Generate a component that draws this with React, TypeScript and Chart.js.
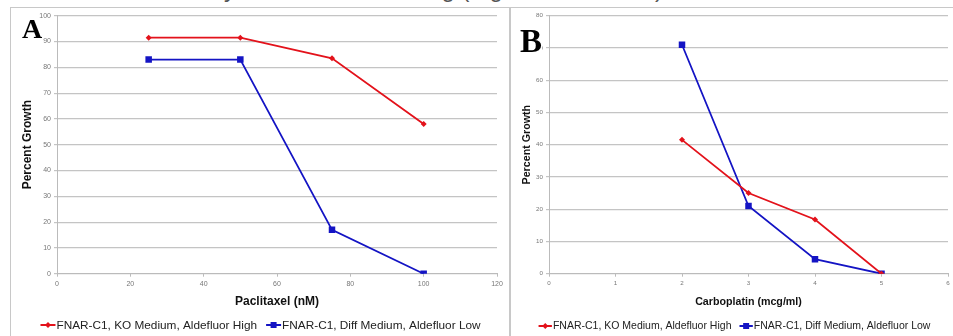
import React, { useEffect, useRef } from "react";
import { Chart, registerables } from "chart.js";

Chart.register(...registerables);

// ---------- data ----------
const paclitaxelDoses = [25, 50, 75, 100];
const paclitaxelKOHigh = [91.5, 91.5, 83.5, 58];
const paclitaxelDiffLow = [83, 83, 17, 0];

const carboplatinDoses = [2, 3, 4, 5];
const carboplatinKOHigh = [41.5, 25, 16.8, 0];
const carboplatinDiffLow = [71, 21, 4.5, 0];

const seriesNames = [
  "FNAR-C1, KO Medium, Aldefluor High",
  "FNAR-C1, Diff Medium, Aldefluor Low",
];
const seriesColors = ["#e3121b", "#1414c4"];

const paclitaxelAxis = { min: 0, max: 120, step: 20, title: "Paclitaxel (nM)" };
const carboplatinAxis = { min: 0, max: 6, step: 1, title: "Carboplatin (mcg/ml)" };
const growthAxisA = { min: 0, max: 100, step: 10, title: "Percent Growth" };
const growthAxisB = { min: 0, max: 80, step: 10, title: "Percent Growth" };

const FONT = "'Liberation Sans', Arial, Helvetica, sans-serif";

function makeLegendPlugin(centerX: number, centerY: number, k: number) {
  return {
    id: "excelLegend",
    afterDraw(chart: any) {
      const ctx = chart.ctx as CanvasRenderingContext2D;
      ctx.save();
      ctx.font = `${11.8 * k}px ${FONT}`;
      const lineLen = 15 * k;
      const gapText = 1;
      const gapItem = 9 * k;
      const ds = chart.data.datasets;
      const widths = ds.map((d: any) => ctx.measureText(d.label).width);
      const total =
        widths.reduce((a: number, w: number) => a + lineLen + gapText + w, 0) +
        gapItem * (ds.length - 1);
      let x = centerX - total / 2;
      ds.forEach((d: any, i: number) => {
        ctx.strokeStyle = d.borderColor;
        ctx.lineWidth = 2;
        ctx.beginPath();
        ctx.moveTo(x, centerY);
        ctx.lineTo(x + lineLen, centerY);
        ctx.stroke();
        const mx = x + lineLen / 2;
        ctx.fillStyle = d.borderColor;
        ctx.beginPath();
        if (d.pointStyle === "rectRot") {
          ctx.moveTo(mx, centerY - 3);
          ctx.lineTo(mx + 3, centerY);
          ctx.lineTo(mx, centerY + 3);
          ctx.lineTo(mx - 3, centerY);
          ctx.closePath();
        } else {
          ctx.rect(mx - 3, centerY - 3, 6, 6);
        }
        ctx.fill();
        ctx.fillStyle = "#222";
        ctx.textBaseline = "middle";
        ctx.textAlign = "left";
        ctx.fillText(d.label, x + lineLen + gapText, centerY + 0.5);
        x += lineLen + gapText + widths[i] + gapItem;
      });
      ctx.restore();
    },
  };
}

type PanelProps = {
  left: number;
  width: number;
  xs: number[];
  high: number[];
  low: number[];
  xAxis: { min: number; max: number; step: number; title: string };
  yAxis: { min: number; max: number; step: number; title: string };
  yAxisWidth: number;
  padRight: number;
  yTitleCenter: number;
  legendCenter: number;
  legendY: number;
  k: number;
};

const CANVAS_TOP = 8;
const CANVAS_H = 328;

function Panel(p: PanelProps) {
  const ref = useRef<HTMLCanvasElement | null>(null);
  useEffect(() => {
    if (!ref.current) return;
    const toPts = (ys: number[]) => p.xs.map((x, i) => ({ x, y: ys[i] }));
    const titleSize = 12 * p.k;
    const titleLH = titleSize * 1.2;
    const chart = new Chart(ref.current, {
      type: "line",
      data: {
        datasets: [
          {
            label: seriesNames[0],
            data: toPts(p.high),
            borderColor: seriesColors[0],
            backgroundColor: seriesColors[0],
            borderWidth: 1.8,
            pointStyle: "rectRot",
            pointRadius: 3,
            pointBorderWidth: 0,
            tension: 0,
          },
          {
            label: seriesNames[1],
            data: toPts(p.low),
            borderColor: seriesColors[1],
            backgroundColor: seriesColors[1],
            borderWidth: 1.8,
            pointStyle: "rect",
            pointRadius: 4.6,
            pointBorderWidth: 0,
            tension: 0,
          },
        ],
      },
      options: {
        animation: false,
        responsive: false,
        devicePixelRatio: 1,
        layout: { padding: { left: 0, top: 7.7, right: p.padRight, bottom: 27 } },
        plugins: { legend: { display: false }, tooltip: { enabled: false } },
        scales: {
          x: {
            type: "linear",
            min: p.xAxis.min,
            max: p.xAxis.max,
            afterFit: (s: any) => {
              s.height = 35.3;
            },
            ticks: {
              stepSize: p.xAxis.step,
              font: { size: 7 * p.k, family: FONT },
              color: "#777",
              padding: 3,
              maxRotation: 0,
            },
            grid: {
              drawOnChartArea: false,
              drawTicks: true,
              tickLength: 3,
              color: "#bbb",
            },
            border: { display: true, color: "#bbb", width: 1 },
            title: {
              display: true,
              text: p.xAxis.title,
              font: { size: titleSize, weight: "bold", family: FONT },
              color: "#111",
              padding: { top: 0, bottom: 7.2 - titleLH / 2 },
            },
          },
          y: {
            type: "linear",
            min: p.yAxis.min,
            max: p.yAxis.max,
            afterFit: (s: any) => {
              s.width = p.yAxisWidth;
            },
            ticks: {
              stepSize: p.yAxis.step,
              font: { size: 7 * p.k, family: FONT },
              color: "#777",
              padding: 3,
            },
            grid: {
              color: "#c4c4c4",
              lineWidth: 1.2,
              drawTicks: true,
              tickLength: 3,
            },
            border: { display: true, color: "#bbb", width: 1 },
            title: {
              display: true,
              text: p.yAxis.title,
              font: { size: titleSize, weight: "bold", family: FONT },
              color: "#111",
              padding: { top: p.yTitleCenter - p.left - titleLH / 2, bottom: 0 },
            },
          },
        },
      },
      plugins: [makeLegendPlugin(p.legendCenter - p.left, p.legendY - CANVAS_TOP, p.k)],
    } as any);
    return () => chart.destroy();
  }, []);
  return (
    <canvas
      ref={ref}
      width={p.width}
      height={CANVAS_H}
      style={{
        position: "absolute",
        left: p.left,
        top: CANVAS_TOP,
        width: p.width,
        height: CANVAS_H,
      }}
    />
  );
}

export default function App() {
  return (
    <div
      style={{
        position: "fixed",
        left: 0,
        top: 0,
        width: 953,
        height: 336,
        overflow: "hidden",
        background: "#fff",
      }}
    >
      <div
        style={{
          position: "absolute",
          left: 28,
          top: -23,
          fontFamily: FONT,
          fontSize: 24,
          lineHeight: "24px",
          color: "#555",
          whiteSpace: "nowrap",
        }}
      >
        cells were relatively resistant to the drug (Figure 3A and 3B), data
      </div>
      <div
        style={{
          position: "absolute",
          left: 10,
          top: 7,
          width: 500,
          height: 340,
          border: "1px solid #c8c8c8",
          boxSizing: "border-box",
        }}
      />
      <div
        style={{
          position: "absolute",
          left: 510,
          top: 7,
          width: 460,
          height: 340,
          border: "1px solid #c8c8c8",
          boxSizing: "border-box",
        }}
      />
      <Panel
        left={11}
        width={499}
        xs={paclitaxelDoses}
        high={paclitaxelKOHigh}
        low={paclitaxelDiffLow}
        xAxis={paclitaxelAxis}
        yAxis={growthAxisA}
        yAxisWidth={46}
        padRight={13}
        yTitleCenter={28}
        legendCenter={260.5}
        legendY={325}
        k={1}
      />
      <Panel
        left={512}
        width={441}
        xs={carboplatinDoses}
        high={carboplatinKOHigh}
        low={carboplatinDiffLow}
        xAxis={carboplatinAxis}
        yAxis={growthAxisB}
        yAxisWidth={37}
        padRight={5}
        yTitleCenter={527}
        legendCenter={734.5}
        legendY={326}
        k={0.89}
      />
      <span
        style={{
          position: "absolute",
          left: 22,
          top: 14.6,
          fontFamily: "'Liberation Serif', 'Times New Roman', serif",
          fontWeight: "bold",
          fontSize: 28,
          lineHeight: "28px",
          color: "#000",
        }}
      >
        A
      </span>
      <span
        style={{
          position: "absolute",
          left: 520,
          top: 25.4,
          fontFamily: "'Liberation Serif', 'Times New Roman', serif",
          fontWeight: "bold",
          fontSize: 33,
          lineHeight: "33px",
          color: "#000",
          background: "#fff",
        }}
      >
        B
      </span>
    </div>
  );
}
